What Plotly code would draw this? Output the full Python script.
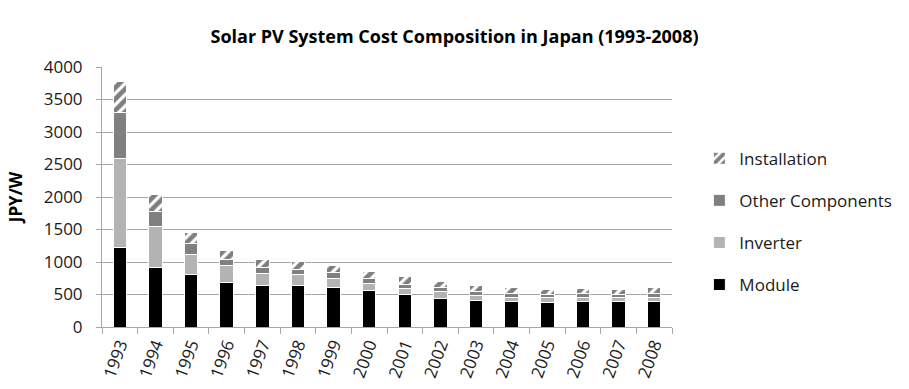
import plotly.graph_objects as go

years = ["1993", "1994", "1995", "1996", "1997", "1998", "1999", "2000",
         "2001", "2002", "2003", "2004", "2005", "2006", "2007", "2008"]
module = [1230, 910, 805, 690, 640, 640, 615, 555, 500, 437, 405, 390, 375, 385, 385, 385]
inverter = [1370, 635, 305, 255, 180, 165, 135, 118, 94, 105, 85, 68, 73, 73, 63, 63]
other_components = [700, 230, 175, 95, 92, 82, 82, 66, 62, 62, 62, 63, 52, 52, 52, 73]
installation = [477, 256, 174, 133, 123, 128, 118, 108, 115, 94, 94, 94, 83, 84, 83, 94]

FONT = "Open Sans"
GRID = "#a6a6a6"
TEXT = "#1a1a1a"

fig = go.Figure()

# stacked from the bottom up; legend lists them top-down
series = [
    ("Module", module, dict(color="#000000"), 4),
    ("Inverter", inverter, dict(color="#b3b3b3"), 3),
    ("Other Components", other_components, dict(color="#808080"), 2),
    ("Installation", installation,
     dict(color="#ffffff",
          pattern=dict(shape="/", fgcolor="#000000", bgcolor="#ffffff",
                       size=8, solidity=0.6)), 1),
]

for name, vals, style, rank in series:
    fig.add_trace(go.Bar(
        x=years, y=vals, name=name, legendgroup=name, legendrank=rank,
        marker=dict(**style, line=dict(color="#ffffff", width=1)),
    ))

fig.update_layout(
    barmode="stack",
    bargap=0.62,
    width=909, height=389,
    margin=dict(l=102, r=233, t=67, b=62),
    paper_bgcolor="white", plot_bgcolor="white",
    font=dict(family=FONT, size=17, color=TEXT),
    title=dict(text="<b>Solar PV System Cost Composition in Japan (1993-2008)</b>",
               x=0.5, xanchor="center", y=0.905, yanchor="middle",
               font=dict(family=FONT, size=18, color="#000000")),
    legend=dict(x=1.048, y=0.405, xanchor="left", yanchor="middle",
                traceorder="grouped", tracegroupgap=17,
                font=dict(family=FONT, size=17, color=TEXT),
                itemwidth=30),
    showlegend=True,
)

fig.update_xaxes(
    type="category",
    automargin=False,
    tickangle=-70,
    showline=True, linecolor=GRID, linewidth=1,
    ticks="outside", tickson="boundaries", ticklen=6, tickcolor=GRID,
    showgrid=False,
    tickfont=dict(family=FONT, size=17, color=TEXT),
)

fig.update_yaxes(
    automargin=False,
    range=[0, 4000], dtick=500,
    showline=True, linecolor=GRID, linewidth=1,
    ticks="outside", ticklen=5, tickcolor=GRID,
    ticklabelstandoff=10,
    showgrid=True, gridcolor=GRID, gridwidth=1,
    zeroline=False,
    tickfont=dict(family=FONT, size=17, color=TEXT),
    title=dict(text="<b>JPY/W</b>", standoff=16,
               font=dict(family=FONT, size=17, color="#000000")),
)

fig.write_html("out.html")
